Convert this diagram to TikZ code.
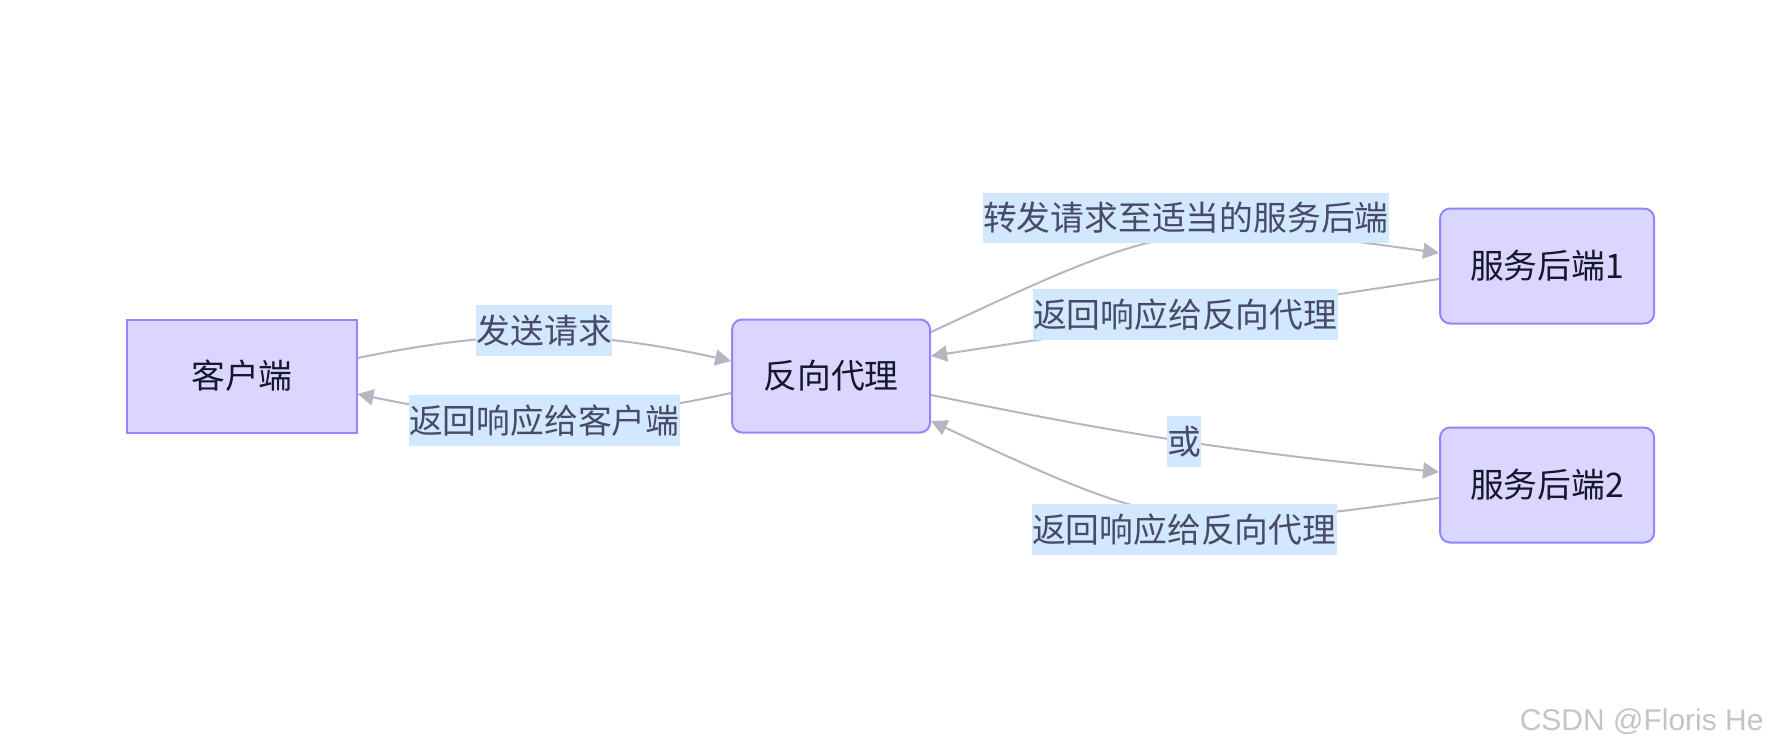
\documentclass[tikz,border=0pt]{standalone}
\usepackage{fontspec}
\usetikzlibrary{arrows.meta,positioning}
\setmainfont{Noto Sans CJK SC}
\newfontfamily\wmfont{Liberation Sans}
\definecolor{boxfill}{RGB}{218,214,255}
\definecolor{boxline}{RGB}{146,134,255}
\definecolor{boxtext}{RGB}{22,22,44}
\definecolor{linkgray}{RGB}{182,182,194}
\definecolor{lblfill}{RGB}{209,232,255}
\definecolor{lbltext}{RGB}{72,75,104}
\definecolor{wmgray}{RGB}{196,196,196}

\begin{document}
\begin{tikzpicture}[>={Triangle[length=8pt,width=8pt]},
  font=\fontsize{16.9pt}{20pt}\selectfont,
  box/.style={draw=boxline,fill=boxfill,line width=1pt,text=boxtext,minimum height=56.5pt,inner sep=0pt},
  rbox/.style={box,rounded corners=5pt},
  lbl/.style={fill=lblfill,text=lbltext,inner xsep=0.2pt,inner ysep=0pt,minimum height=25.4pt},
  link/.style={->,draw=linkgray,line width=1pt}]
\useasboundingbox (-121pt,-188pt) rectangle (771pt,188pt);
\node[box,minimum width=114.5pt] (C) {客户端};
\node[rbox,minimum width=99pt,right=186.8pt of C] (P) {反向代理};
\node[rbox,minimum width=107pt,minimum height=57.5pt,right=254pt of P,yshift=55pt] (S1) {服务后端1};
\node[rbox,minimum width=107pt,minimum height=57.5pt,right=254pt of P,yshift=-54.5pt] (S2) {服务后端2};
\draw[link] ([yshift=9pt]C.east) to[bend left=12] node[lbl,yshift=3pt] {发送请求} ([yshift=7.5pt]P.west);
\draw[link] ([yshift=-8.5pt]P.west) to[bend left=12] node[lbl,yshift=-2pt] {返回响应给客户端} ([yshift=-9pt]C.east);
\draw[link] ([yshift=22pt]P.east) to[out=25,in=172,looseness=1.3] node[lbl,xshift=4.5pt,yshift=9.7pt] {转发请求至适当的服务后端} ([yshift=6.5pt]S1.west);
\draw[link] ([yshift=-6.5pt]S1.west) -- node[lbl,yshift=1.5pt] {返回响应给反向代理} ([yshift=10pt]P.east);
\draw[link] ([yshift=-9.5pt]P.east) to[bend right=3] node[lbl] {或} ([yshift=6.5pt]S2.west);
\draw[link] ([yshift=-6.5pt]S2.west) to[out=188,in=-25,looseness=1.3] node[lbl,xshift=3.6pt,yshift=-7.7pt] {返回响应给反向代理} ([yshift=-22.5pt]P.east);
\node[font=\fontsize{15pt}{18pt}\wmfont,text=wmgray,anchor=east,inner sep=0pt] (wm) at (761pt,-173pt) {CSDN @Floris He};
\end{tikzpicture}
\end{document}
